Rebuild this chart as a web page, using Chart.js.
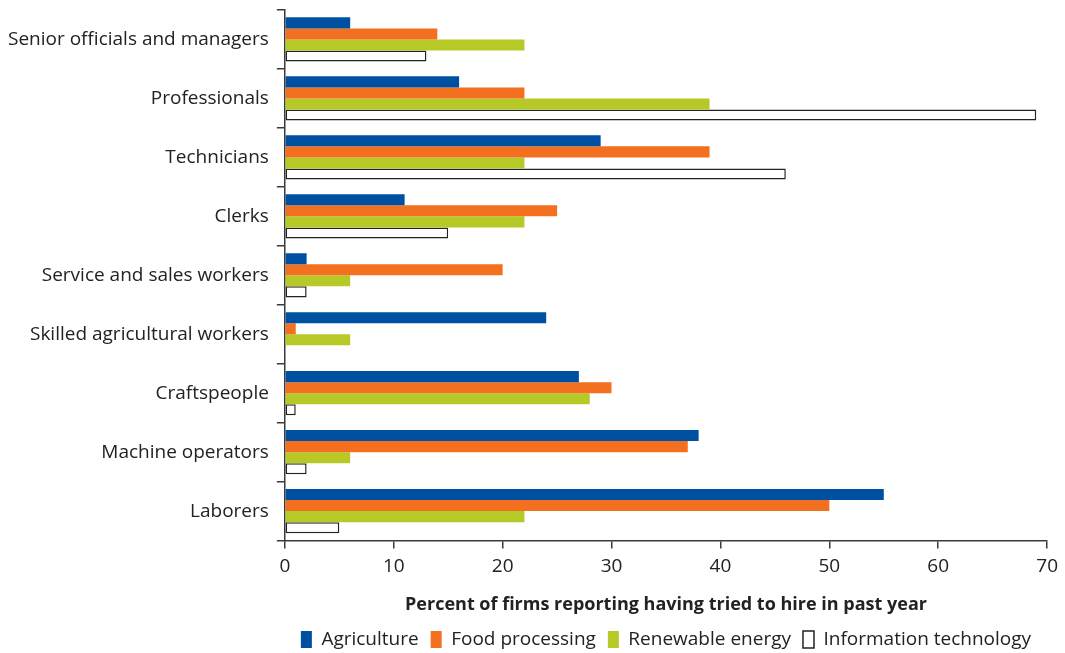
<!DOCTYPE html>
<html>
<head>
<meta charset="utf-8">
<script src="https://cdn.jsdelivr.net/npm/chart.js@4.4.0/dist/chart.umd.min.js"></script>
<style>
  html, body { margin: 0; padding: 0; background: #fff; }
  #wrap { width: 1065px; height: 653px; }
</style>
</head>
<body>
<div id="wrap"><canvas id="hireChart"></canvas></div>
<script>
// occupation groups (top to bottom)
const occupations = ['Senior officials and managers', 'Professionals', 'Technicians', 'Clerks',
  'Service and sales workers', 'Skilled agricultural workers', 'Craftspeople', 'Machine operators', 'Laborers'];

// percent of firms per sector
const agriculture = [6, 16, 29, 11, 2, 24, 27, 38, 55];
const foodProcessing = [14, 22, 39, 25, 20, 1, 30, 37, 50];
const renewableEnergy = [22, 39, 22, 22, 6, 6, 28, 6, 22];
const infoTech = [13, 69, 46, 15, 2, 0, 1, 2, 5];

const xTicks = [0, 10, 20, 30, 40, 50, 60, 70];

const axisColor = '#3a3a3a';
const fontFamily = '"Open Sans", "Noto Sans", sans-serif';

// legend sits under the plot area, not the whole canvas
const legendUnderPlot = {
    id: 'legendUnderPlot',
    afterLayout(chart) {
        const l = chart.legend;
        l.left = chart.chartArea.left;
        l.right = chart.chartArea.right;
        l.width = l.right - l.left;
    }
};

const ctx = document.getElementById('hireChart');
const hireChart = new Chart(ctx, {
    type: 'bar',
    data: {
        labels: occupations,
        datasets: [{
            label: 'Agriculture',
            data: agriculture,
            backgroundColor: '#0050a2',
            borderWidth: 0
        },
        {
            label: 'Food processing',
            data: foodProcessing,
            backgroundColor: '#f37021',
            borderWidth: 0
        },
        {
            label: 'Renewable energy',
            data: renewableEnergy,
            backgroundColor: '#b6c927',
            borderWidth: 0
        },
        {
            label: 'Information technology',
            data: infoTech,
            backgroundColor: '#ffffff',
            borderColor: '#222222',
            borderWidth: 1.5,
            borderSkipped: false
        }]
    },
    options: {
        indexAxis: 'y',
        responsive: true,
        maintainAspectRatio: false,
        animation: false,
        datasets: {
            bar: {
                categoryPercentage: 0.75,
                barPercentage: 1.0
            }
        },
        layout: {
            padding: { top: 10, right: 4, left: 0, bottom: -6 }
        },
        scales: {
            x: {
                min: 0,
                max: 70,
                afterBuildTicks: (axis) => {
                    axis.ticks = xTicks.map(v => ({ value: v }));
                },
                grid: {
                    drawOnChartArea: false,
                    drawTicks: true,
                    tickLength: 8,
                    color: axisColor,
                    lineWidth: 1.5
                },
                border: { color: axisColor, width: 1.5 },
                ticks: {
                    color: '#222',
                    padding: 7,
                    font: { family: fontFamily, size: 19 }
                },
                title: {
                    display: true,
                    text: 'Percent of firms reporting having tried to hire in past year',
                    color: '#222',
                    padding: { top: 9, bottom: 2 },
                    font: { family: fontFamily, size: 18, weight: 'bold' }
                }
            },
            y: {
                afterFit: (axis) => {
                    axis.paddingTop = 0;
                    axis.paddingBottom = 0;
                },
                grid: {
                    offset: true,
                    drawOnChartArea: false,
                    drawTicks: true,
                    tickLength: 8,
                    color: axisColor,
                    lineWidth: 1.5
                },
                border: { color: axisColor, width: 1.5 },
                ticks: {
                    color: '#222',
                    padding: 8,
                    font: { family: fontFamily, size: 19 }
                }
            }
        },
        plugins: {
            legend: {
                display: true,
                position: 'bottom',
                labels: {
                    color: '#222',
                    boxWidth: 11,
                    boxHeight: 17,
                    padding: 12,
                    font: { family: fontFamily, size: 19 }
                }
            },
            title: { display: false },
            tooltip: { enabled: false }
        }
    },
    plugins: [legendUnderPlot]
});
</script>
</body>
</html>
